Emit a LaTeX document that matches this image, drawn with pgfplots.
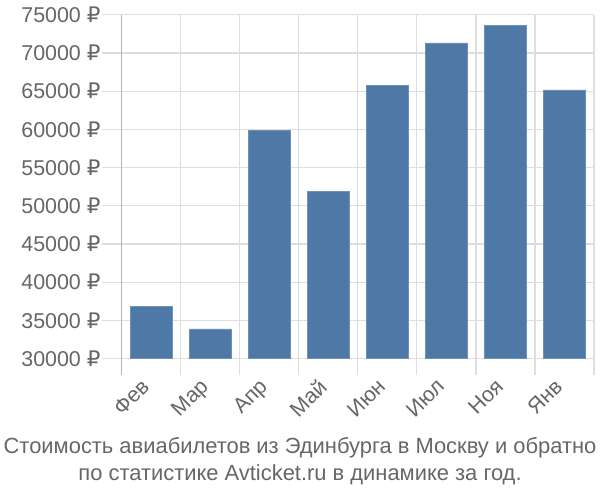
\documentclass[border=0pt]{standalone}
\usepackage{pgfplots}
\pgfplotsset{compat=1.18}
\usepackage{fontspec}
\setmainfont{Liberation Sans}
\newfontfamily\rubf{DejaVu Sans}
\newcommand{\R}{{\rubf ₽}}
\definecolor{barc}{RGB}{78,121,167}
\definecolor{baredge}{RGB}{110,145,185}
\definecolor{gridc}{RGB}{222,222,222}
\definecolor{axc}{RGB}{180,180,180}
\definecolor{txt}{RGB}{102,102,102}
\begin{document}
\begin{tikzpicture}
\path[use as bounding box] (-121.7bp,-141.3bp) rectangle (478.3bp,358.7bp);
\begin{axis}[
  scale only axis, width=472.3bp, height=344bp,
  at={(0,0)}, anchor=south west,
  xmin=-0.5, xmax=7.5, ymin=30000, ymax=75000,
  scaled y ticks=false,
  axis line style={draw=none},
  xtick={0,...,7},
  xticklabels={Фев,Мар,Апр,Май,Июн,Июл,Ноя,Янв},
  minor xtick={-0.5,0.5,...,7.5},
  xminorgrids, minor x grid style={gridc, line width=1.2bp},
  major x tick style={draw=none},
  minor x tick style={gridc, line width=1.2bp},
  minor tick length=16bp,
  ytick={30000,35000,...,75000},
  yticklabels={30000 \R,35000 \R,40000 \R,45000 \R,50000 \R,55000 \R,60000 \R,65000 \R,70000 \R,75000 \R},
  ymajorgrids, major y grid style={gridc, line width=1.2bp},
  major y tick style={gridc, line width=1.2bp},
  major tick length=20bp,
  tick align=outside, xtick pos=bottom, ytick pos=left,
  ticklabel style={font=\fontsize{21.5}{24}\selectfont, text=txt},
  yticklabel style={inner sep=1bp},
  xticklabel style={xshift=-11.3bp, yshift=2.8bp, rotate=45, anchor=north east, inner sep=1bp},
  clip=false,
]
\addplot[ybar, bar width=42bp, fill=barc, draw=baredge, line width=0.6bp] coordinates {
(0,36800) (1,33900) (2,59900) (3,51900) (4,65700) (5,71300) (6,73600) (7,65150)
};
\draw[axc, line width=1.4bp] (rel axis cs:0,1) -- ([yshift=-16bp]rel axis cs:0,0);
\end{axis}
\node[anchor=base, text=txt, font=\fontsize{22}{24}\selectfont] at (178.3bp,-94.3bp) {Стоимость авиабилетов из Эдинбурга в Москву и обратно};
\node[anchor=base, text=txt, font=\fontsize{22}{24}\selectfont] at (178.3bp,-121.3bp) {по статистике Avticket.ru в динамике за год.};
\end{tikzpicture}
\end{document}
